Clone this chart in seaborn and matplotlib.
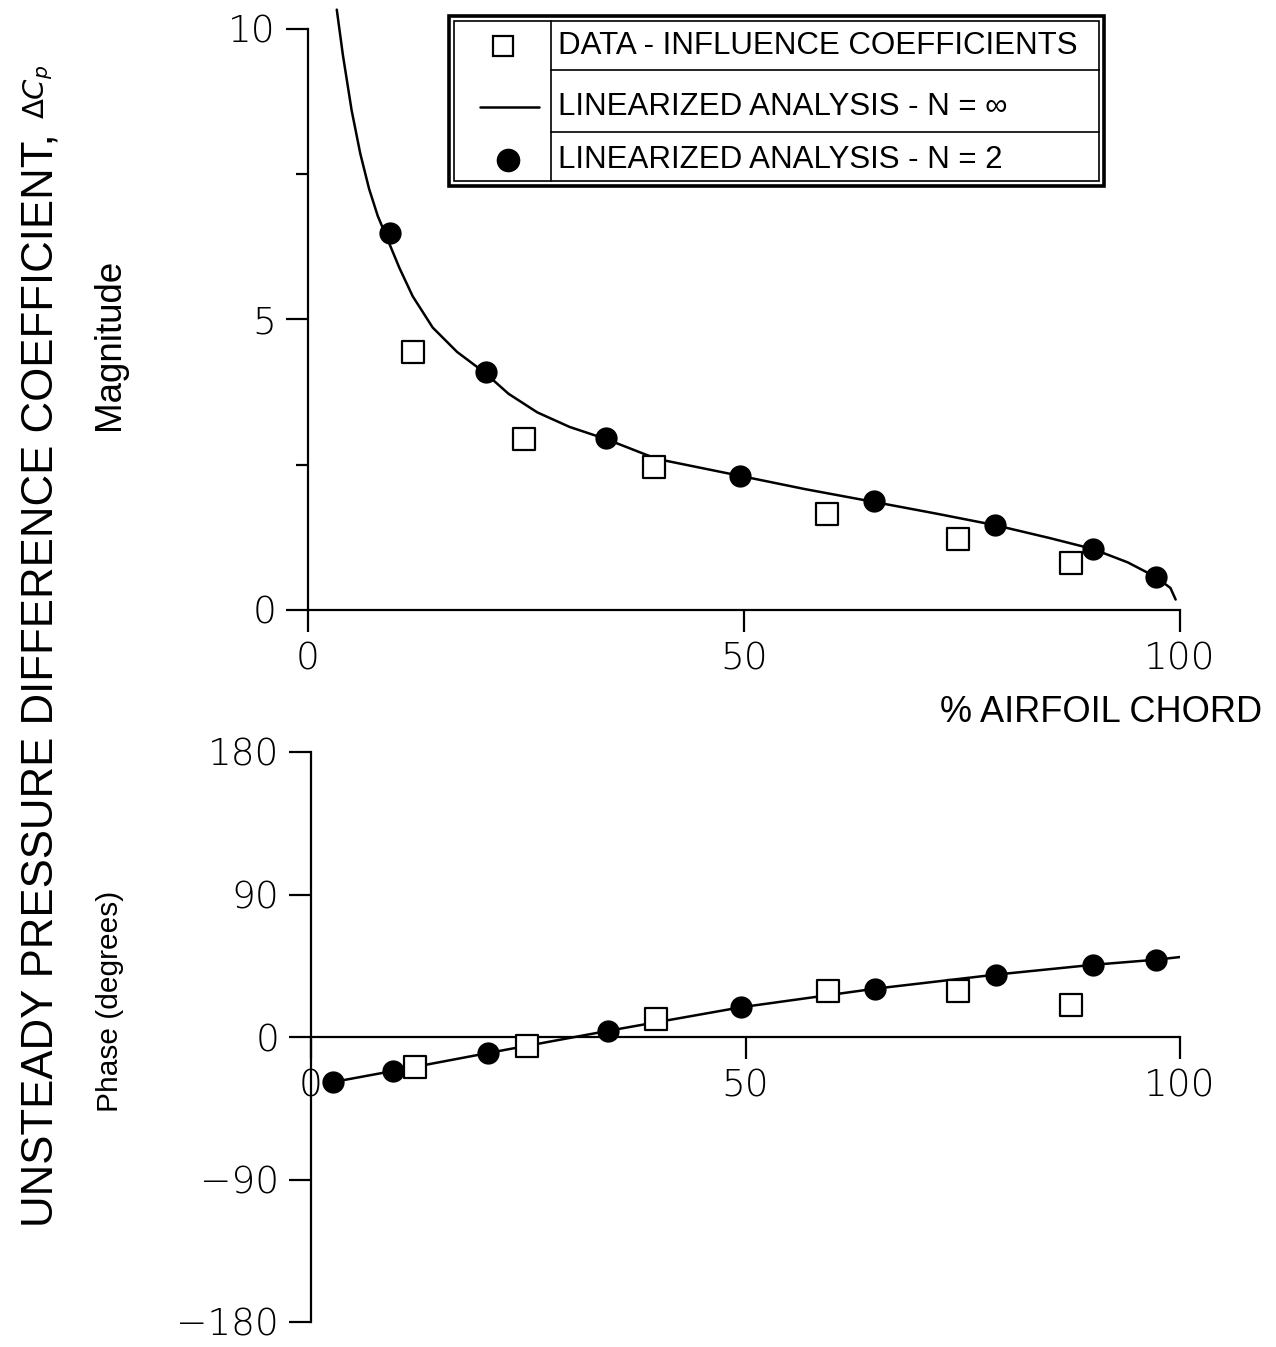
import numpy as np
import pandas as pd
import seaborn as sns
import matplotlib.pyplot as plt
from matplotlib.patches import Rectangle

sns.set_style('ticks')
plt.rcParams['font.family'] = ['Liberation Sans', 'DejaVu Sans']
plt.rcParams['text.color'] = 'black'
plt.rcParams['xtick.color'] = 'black'
plt.rcParams['ytick.color'] = 'black'

# linearized analysis N = infinity
mag_curve_x = [3.3, 4.0, 5.0, 6.0, 7.0, 8.0, 9.2, 10.5, 12.0, 14.3, 17.1, 20.3, 23.0, 26.3, 30.0,
               34.2, 40.0, 49.5, 57.0, 64.9, 72.0, 78.8, 85.0, 90.0, 94.0, 97.2, 98.9, 99.5]
mag_curve_y = [10.33, 9.55, 8.60, 7.85, 7.25, 6.78, 6.35, 5.88, 5.40, 4.86, 4.44, 4.08, 3.72, 3.40,
               3.15, 2.94, 2.60, 2.31, 2.08, 1.86, 1.66, 1.46, 1.24, 1.05, 0.82, 0.57, 0.38, 0.18]
phase_curve_x = [2.0, 9.4, 20.4, 34.2, 49.5, 64.9, 78.8, 90.0, 97.2, 100.0]
phase_curve_y = [-29.0, -21.5, -10.1, 3.9, 18.8, 30.5, 39.4, 45.6, 48.8, 50.5]

# linearized analysis N = 2
n2_x_mag = [9.4, 20.4, 34.2, 49.5, 64.9, 78.8, 90.0, 97.2]
n2_mag = [6.48, 4.09, 2.96, 2.31, 1.87, 1.47, 1.05, 0.57]
n2_x_phase = [2.5, 9.4, 20.4, 34.2, 49.5, 64.9, 78.8, 90.0, 97.2]
n2_phase = [-28.3, -21.5, -10.1, 3.9, 18.8, 30.5, 39.4, 45.6, 48.8]

# data - influence coefficients
data_x = [12.0, 24.8, 39.7, 59.5, 74.5, 87.5]
data_mag = [4.44, 2.94, 2.46, 1.65, 1.22, 0.81]
data_phase = [-19.0, -5.7, 11.4, 29.1, 29.1, 20.2]

W, H = 1276, 1347
fig = plt.figure(figsize=(W / 100, H / 100), dpi=100)

tick_font = dict(family='DejaVu Sans', weight='light', size=27)


def style_axis(ax):
    for s in ['top', 'right']:
        ax.spines[s].set_visible(False)
    for s in ['left', 'bottom']:
        ax.spines[s].set_linewidth(1.6)
        ax.spines[s].set_color('black')
    ax.tick_params(which='major', direction='out', length=16, width=1.6, pad=7,
                   colors='black', bottom=True, left=True)
    ax.tick_params(which='minor', direction='out', length=9, width=1.6, left=True)
    for lab in ax.get_xticklabels() + ax.get_yticklabels():
        lab.set_fontproperties(tick_font)
        lab.set_fontsize(27)


# top: magnitude
ax1 = fig.add_axes([308 / W, 1 - 610 / H, 872 / W, 605 / H])
sns.lineplot(x=mag_curve_x, y=mag_curve_y, sort=False, estimator=None, color='black',
             linewidth=1.8, ax=ax1, zorder=2)
sns.scatterplot(x=n2_x_mag, y=n2_mag, marker='o', s=220, color='black', edgecolor='black',
                ax=ax1, zorder=3)
sns.scatterplot(x=data_x, y=data_mag, marker='s', s=250, color='white', edgecolor='black',
                linewidth=1.6, ax=ax1, zorder=3)
ax1.set_xlim(0, 100)
ax1.set_ylim(0, 10.41)
ax1.set_xticks([0, 50, 100])
ax1.set_yticks([0, 5, 10])
ax1.set_yticks([2.5, 7.5], minor=True)
ax1.set_xticklabels(['0', '50', '100'])
ax1.set_yticklabels(['0', '5', '10'])
ax1.spines['left'].set_bounds(0, 10)
style_axis(ax1)
ax1.set_xlabel('')
ax1.set_ylabel('')

# bottom: phase
ax2 = fig.add_axes([311 / W, 1 - 1322 / H, 869 / W, 570 / H])
sns.lineplot(x=phase_curve_x, y=phase_curve_y, sort=False, estimator=None, color='black',
             linewidth=1.8, ax=ax2, zorder=2)
sns.scatterplot(x=n2_x_phase, y=n2_phase, marker='o', s=220, color='black', edgecolor='black',
                ax=ax2, zorder=3)
sns.scatterplot(x=data_x, y=data_phase, marker='s', s=250, color='white', edgecolor='black',
                linewidth=1.6, ax=ax2, zorder=3)
ax2.set_xlim(0, 100)
ax2.set_ylim(-180, 180)
ax2.spines['bottom'].set_position(('data', 0))
ax2.set_xticks([0, 50, 100])
ax2.set_yticks([-180, -90, 0, 90, 180])
ax2.set_xticklabels(['0', '50', '100'])
ax2.set_yticklabels(['\u2212180', '\u221290', '0', '90', '180'])
style_axis(ax2)
ax2.set_xlabel('')
ax2.set_ylabel('')

# axis titles
fig.text(1101 / W, 1 - 712 / H, '% AIRFOIL CHORD', ha='center', va='center', fontsize=26)
fig.text(110 / W, 1 - 344 / H, 'Magnitude', rotation=90, ha='center', va='center', fontsize=26.5)
fig.text(110 / W, 1 - 1001 / H, 'Phase (degrees)', rotation=90, ha='center', va='center',
         fontsize=21.5)
fig.text(41 / W, 1 - 680 / H, 'UNSTEADY PRESSURE DIFFERENCE COEFFICIENT,', rotation=90,
         ha='center', va='center', fontsize=31.5)
fig.text(38 / W, 1 - 92 / H, r'$\mathit{\Delta C_p}$', rotation=90, ha='center', va='center',
         fontsize=21)

# legend box drawn as a small table
lg = fig.add_axes([449 / W, 1 - 186 / H, 655 / W, 170 / H])
lg.set_xlim(0, 1)
lg.set_ylim(0, 1)
lg.axis('off')
lg.add_patch(Rectangle((0, 0), 1, 1, fill=False, lw=2.6, ec='black', clip_on=False))
dx, dy = 5 / 655, 5 / 170
lg.add_patch(Rectangle((dx, dy), 1 - 2 * dx, 1 - 2 * dy, fill=False, lw=1.2, ec='black'))
lg.plot([0.156, 0.156], [dy, 1 - dy], color='black', lw=1.2)
lg.plot([0.156, 1 - dx], [0.682, 0.682], color='black', lw=1.2)
lg.plot([0.156, 1 - dx], [0.318, 0.318], color='black', lw=1.2)
lg.plot([0.082], [0.824], marker='s', ms=15, mfc='white', mec='black', mew=1.6)
lg.plot([0.048, 0.138], [0.465, 0.465], color='black', lw=1.8)
lg.plot([0.090], [0.153], marker='o', ms=16, color='black')
legend_labels = ['DATA - INFLUENCE COEFFICIENTS', 'LINEARIZED ANALYSIS - N = \u221e',
                 'LINEARIZED ANALYSIS - N = 2']
for lab, yy in zip(legend_labels, [0.824, 0.465, 0.153]):
    lg.text(0.166, yy, lab, ha='left', va='center', fontsize=22.5)

fig.savefig('out.png', dpi=100)
